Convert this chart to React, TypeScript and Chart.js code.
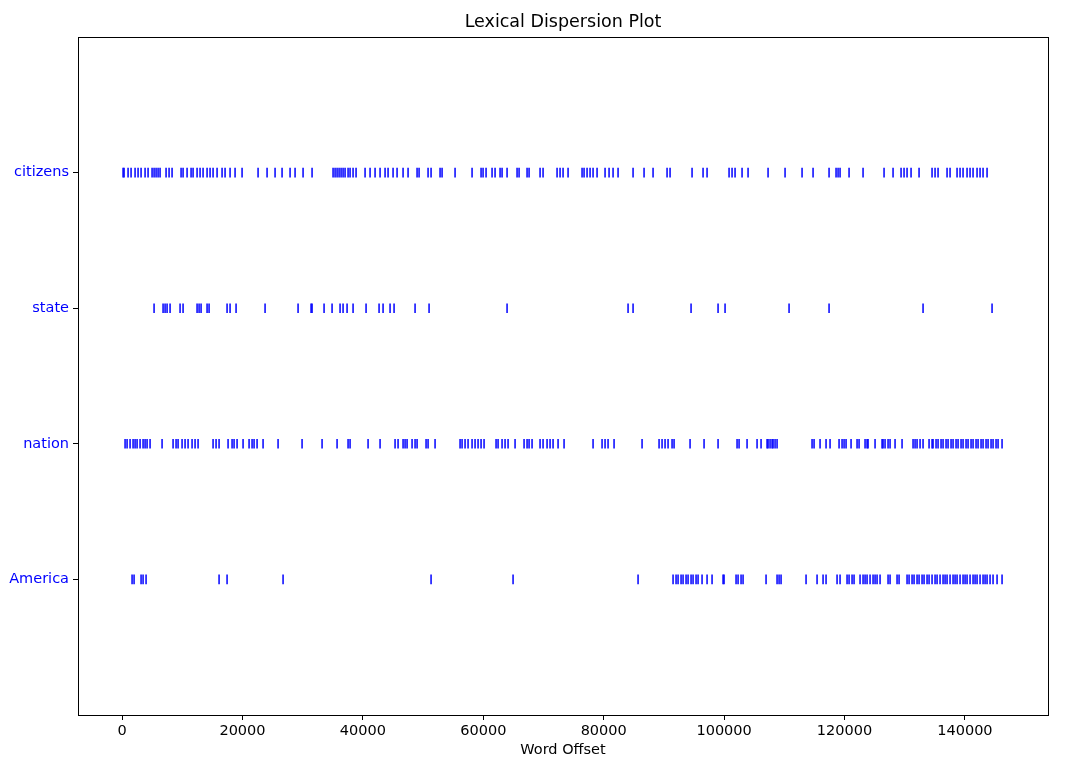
import React, { useEffect, useRef } from 'react';
import { Chart, registerables } from 'chart.js';

Chart.register(...registerables);

const words = ['America', 'nation', 'state', 'citizens'];

const citizensOffsets = [
  166, 332, 997, 1495, 2159, 2658, 3156, 3820, 4319, 4983, 5315, 5647, 5980, 6312, 7308, 7807, 8305,
  9800, 10132, 10797, 11461, 11793, 12458, 12956, 13454, 14119, 14617, 15115, 15780, 16610, 17108, 17939, 18769, 19932,
  22590, 24085, 25413, 26576, 27905, 28735, 30064, 31559,
  35047, 35379, 35712, 36044, 36376, 36708, 37040, 37539, 37871, 38369, 38867,
  40362, 41193, 42023, 42854, 43684, 44183, 45013, 45678, 46674, 47505,
  49000, 49332, 50827, 51325, 52820, 53152, 55311, 58135, 59630, 59962, 60460, 61457, 61955, 62786, 63118, 63949,
  65610, 65942, 67271, 67603, 69430, 69928, 72254, 72752, 73250, 74081, 76406, 76738, 77237, 77735, 78233, 78898,
  80226, 80891, 81555, 82386, 84877, 86704, 88199, 90525, 91023, 94677, 96504, 97169,
  100823, 101321, 101819, 102982, 103979, 107301, 110124, 112948, 114775, 117433, 118595, 118928, 119260, 120755,
  123080, 126568, 128063, 129392, 129890, 130389, 131053, 132382, 134541, 135039, 135538, 137033, 137531,
  138694, 139192, 139690, 140355, 140853, 141351, 142016, 142514, 143012, 143677,
];

const stateOffsets = [
  5315, 6810, 7142, 7475, 7973, 9634, 10132, 12458, 12790, 13122, 14119, 14451, 17441, 17939, 18935, 23752,
  29234, 31393, 31559, 33552, 34881, 36210, 36708, 37373, 38369, 40528, 42688, 43352, 44515, 45179, 48667, 50993,
  63949, 84047, 84877, 94511, 98996, 100158, 110789, 117433, 133046, 144507,
];

const nationOffsets = [
  498, 831, 1329, 1827, 2159, 2492, 2990, 3488, 3820, 4153, 4651, 6644, 8471, 8969, 9302, 9966, 10464, 10963,
  11627, 12125, 12624, 15115, 15613, 16112, 17607, 18271, 18603, 19102, 20098, 21095, 21593, 21925, 22424, 23420,
  25912, 29898, 33220, 35712, 37539, 37871, 40861, 42854, 45345, 45844, 46674, 47006, 47339, 48169, 48667, 49000,
  50494, 50827, 51989, 56142, 56474, 56972, 57471, 58135, 58633, 59132, 59630, 60128, 62121, 62454, 63118, 63616,
  64115, 65277, 66772, 67271, 67603, 68101, 69430, 69928, 70593, 71091, 71589, 72420, 73416, 78233, 79728, 80226,
  80725, 81721, 86372, 89196, 89694, 90192, 90691, 91355, 91687, 94345, 96670, 98996, 102152, 102484, 103813,
  105474, 106138, 107135, 107301, 107633, 107965, 108131, 108463, 108796, 114609, 114941, 115938, 116934, 117599,
  119094, 119592, 119924, 120256, 121087, 122084, 122416, 123412, 123745, 123911, 125073, 126236, 126402, 126734,
  127233, 127565, 128395, 129558, 131385, 131717, 132050, 132548, 133046, 134043, 134541, 134707, 135205, 135538,
  136036, 136368, 136866, 137199, 137697, 138029, 138527, 138860, 139358, 139690, 140188, 140521, 141019, 141351,
  141849, 142182, 142680, 143012, 143510, 143843, 144341, 144673, 145171, 145504, 146168,
];

const americaOffsets = [
  1661, 1993, 3156, 3488, 3986, 16112, 17441, 26742, 51325, 64945, 85708,
  91521, 92019, 92352, 92850, 93182, 93680, 94013, 94511, 94843, 95341, 95674, 96338, 97169, 97999,
  99826, 99992, 101985, 102318, 102816, 103148, 106968, 108796, 109128, 109460, 113612, 115440, 116436, 116934,
  118762, 119260, 120423, 120755, 121253, 121585, 122582, 123080, 123412, 123745, 124243, 124741, 125073, 125406,
  125904, 127233, 127565, 128728, 129060, 130389, 130721, 131219, 131551, 132050, 132382, 132880, 133212, 133711,
  134043, 134541, 135039, 135372, 135870, 136368, 136700, 137033, 137531, 138029, 138361, 138694, 139192, 139690,
  140022, 140355, 140853, 141351, 141683, 142016, 142514, 143012, 143344, 143677, 144175, 144673, 145339, 146168,
];

const xTickValues = [0, 20000, 40000, 60000, 80000, 100000, 120000, 140000];
const titleText = 'Lexical Dispersion Plot';
const xAxisLabel = 'Word Offset';

const FONT = "'DejaVu Sans', sans-serif";

export default function App() {
  const ref = useRef<HTMLCanvasElement>(null);

  useEffect(() => {
    document.body.style.margin = '0';
    const series = [americaOffsets, nationOffsets, stateOffsets, citizensOffsets];

    const framePlugin = {
      id: 'frameAndTitle',
      afterDraw(chart: any) {
        const { ctx, chartArea } = chart;
        ctx.save();
        ctx.strokeStyle = '#000';
        ctx.lineWidth = 1;
        const l = Math.round(chartArea.left) + 0.5;
        const t = Math.round(chartArea.top) + 0.5;
        const r = Math.round(chartArea.right) + 0.5;
        const b = Math.round(chartArea.bottom) + 0.5;
        ctx.strokeRect(l, t, r - l, b - t);
        ctx.fillStyle = '#000';
        ctx.font = `17.5px ${FONT}`;
        ctx.textAlign = 'center';
        ctx.textBaseline = 'middle';
        ctx.fillText(titleText, (chartArea.left + chartArea.right) / 2, 22);
        ctx.restore();
      },
    };

    const chart = new Chart(ref.current as HTMLCanvasElement, {
      type: 'scatter',
      data: {
        datasets: series.map((arr, i) => ({
          label: words[i],
          data: arr.map((x) => ({ x, y: i })),
          pointStyle: 'line',
          rotation: 90,
          radius: 4.8,
          hoverRadius: 4.8,
          borderColor: '#0000ff',
          backgroundColor: '#0000ff',
          borderWidth: 1.5,
        })),
      },
      options: {
        responsive: false,
        animation: false,
        layout: { padding: { top: 37, right: 32, left: 0, bottom: 0 } },
        plugins: {
          legend: { display: false },
          tooltip: { enabled: false },
          title: { display: false },
        },
        scales: {
          x: {
            type: 'linear',
            min: -7320,
            max: 153800,
            afterBuildTicks: (s: any) => {
              s.ticks = xTickValues.map((v) => ({ value: v }));
            },
            afterFit: (s: any) => {
              s.height = 47;
            },
            grid: { drawOnChartArea: false, drawTicks: true, tickLength: 5, color: '#000', lineWidth: 1 },
            border: { display: true, color: '#000', width: 1 },
            ticks: {
              color: '#000',
              font: { family: FONT, size: 14.5 },
              padding: 3,
              maxRotation: 0,
              autoSkip: false,
              callback: (v: any) => String(v),
            },
            title: {
              display: true,
              text: xAxisLabel,
              color: '#000',
              font: { family: FONT, size: 14.5 },
              padding: { top: 0, bottom: 3 },
            },
          },
          y: {
            type: 'linear',
            min: -1,
            max: 4,
            afterBuildTicks: (s: any) => {
              s.ticks = words.map((_, i) => ({ value: i }));
            },
            afterFit: (s: any) => {
              s.width = 78;
            },
            grid: { drawOnChartArea: false, drawTicks: true, tickLength: 5, color: '#000', lineWidth: 1 },
            border: { display: true, color: '#000', width: 1 },
            ticks: {
              color: '#0000ff',
              font: { family: FONT, size: 14.5 },
              padding: 4,
              autoSkip: false,
              callback: (v: any) => words[v as number] ?? '',
            },
          },
        },
      },
      plugins: [framePlugin],
    } as any);

    return () => chart.destroy();
  }, []);

  return <canvas ref={ref} width={1080} height={762} style={{ display: 'block' }} />;
}
